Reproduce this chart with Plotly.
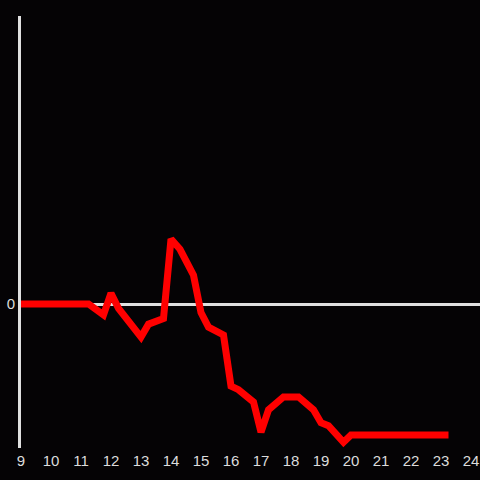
import plotly.graph_objects as go

hours = [9.0, 11.25, 11.75, 12.0, 12.25, 12.6, 13.0, 13.25, 13.75, 14.0, 14.3, 14.75,
         15.0, 15.25, 15.75, 16.0, 16.25, 16.75, 17.0, 17.25, 17.75, 18.25, 18.75,
         19.0, 19.25, 19.75, 20.0, 23.25]
values = [0.0, 0.0, -0.15, 0.15, -0.06, -0.24, -0.46, -0.28, -0.20, 0.90, 0.76, 0.40,
          -0.12, -0.32, -0.43, -1.14, -1.19, -1.36, -1.78, -1.47, -1.29, -1.29, -1.47,
          -1.65, -1.69, -1.92, -1.82, -1.82]
x_ticks = list(range(9, 25))

fig = go.Figure()
fig.add_trace(go.Scatter(x=hours, y=values, mode="lines",
                         line=dict(color="#ff0000", width=7), hoverinfo="skip"))

fig.update_layout(
    width=480, height=480,
    margin=dict(l=21, r=0, t=16, b=32),
    paper_bgcolor="#050305", plot_bgcolor="#050305",
    showlegend=False,
    font=dict(family="Liberation Sans, Arial, sans-serif", size=15, color="#dcdcdc"),
)
fig.update_xaxes(range=[9, 24.3], tickvals=x_ticks, ticktext=[str(t) for t in x_ticks],
                 showgrid=False, zeroline=False, showline=False, ticks="",
                 automargin=False, ticklabelstandoff=2,
                 tickfont=dict(size=15, color="#dcdcdc"))
fig.update_yaxes(range=[-2, 4], tickvals=[0], ticktext=["0"], showgrid=False,
                 zeroline=True, zerolinecolor="#e0e0e0", zerolinewidth=3,
                 showline=True, linecolor="#e0e0e0", linewidth=3, ticks="",
                 automargin=False,
                 tickfont=dict(size=15, color="#dcdcdc"))

fig.write_html("out.html", config={"displayModeBar": False},
               post_script="document.body.style.margin='0';document.body.style.background='#050305';")
